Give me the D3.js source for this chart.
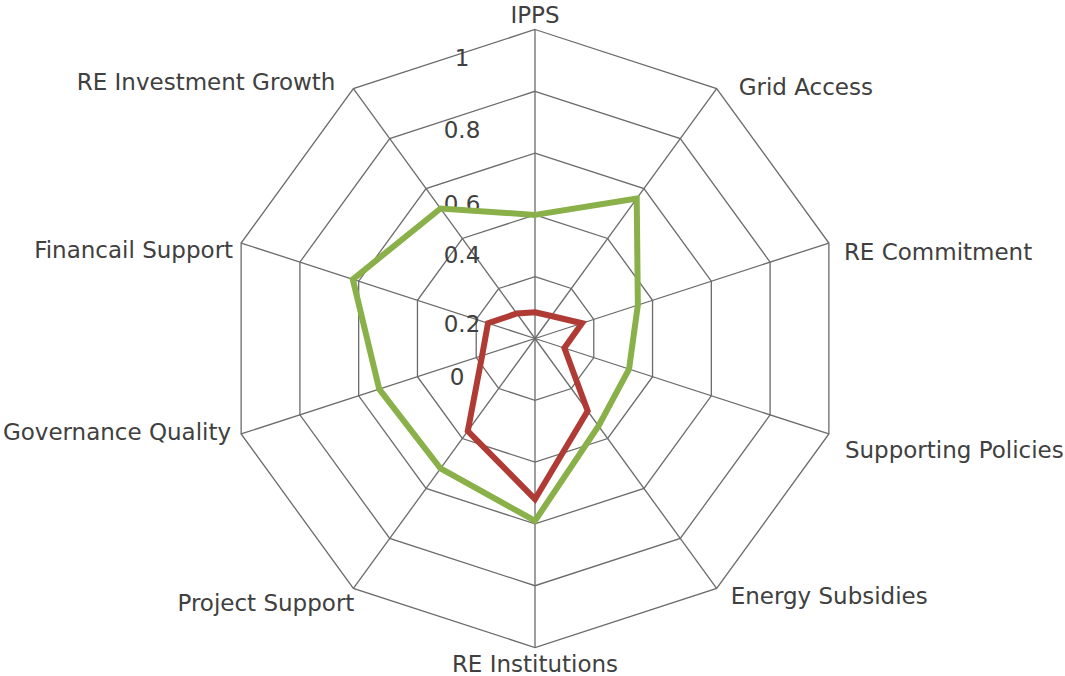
<!DOCTYPE html>
<html>
<head>
<meta charset="utf-8">
<script src="https://cdn.jsdelivr.net/npm/d3@7"></script>
<style>
  html, body { margin: 0; padding: 0; background: #fff; }
  svg text { font-family: "DejaVu Sans", Verdana, sans-serif; fill: #404040; }
</style>
</head>
<body>
<svg id="chart" width="1065" height="676"></svg>
<script>
// axes, clockwise from the top
const categories = ["IPPS", "Grid Access", "RE Commitment", "Supporting Policies", "Energy Subsidies",
  "RE Institutions", "Project Support", "Governance Quality", "Financail Support", "RE Investment Growth"];
const greenValues = [0.40, 0.56, 0.35, 0.32, 0.35, 0.59, 0.52, 0.53, 0.62, 0.52];
const redValues = [0.085, 0.09, 0.16, 0.10, 0.29, 0.52, 0.37, 0.18, 0.16, 0.10];
const tickValues = [0, 0.2, 0.4, 0.6, 0.8, 1];
const tickLabels = ["0", "0.2", "0.4", "0.6", "0.8", "1"];

const width = 1065, height = 676;
const cx = 535, cy = 338.5, R = 309;
// the value labels sit a bit off the rings in the original
const tickNudge = [46.5, 55, 48, 59, 47, 36.5];
// label offsets from the outer vertex, [dx, dy]
const labelNudge = [[0, -7], [22, 6], [15, 17], [16, 24], [14, 16],
  [0, 24], [1, 23], [-10, 6], [-8, 15], [-18, 1]];

const svg = d3.select('#chart');
const g = svg.append('g').attr('transform', `translate(${cx},${cy})`);

const r = d3.scaleLinear().domain([0, 1]).range([0, R]);
const angle = d3.scaleLinear().domain([0, categories.length]).range([0, 2 * Math.PI]);

const radial = d3.lineRadial()
  .angle((d, i) => angle(i))
  .radius(d => r(d))
  .curve(d3.curveLinearClosed);

// rings
g.selectAll('path.ring')
  .data(tickValues.filter(v => v > 0))
  .enter()
  .append('path')
  .attr('class', 'ring')
  .attr('d', v => radial(categories.map(() => v)))
  .attr('fill', 'none')
  .attr('stroke', '#6b6b6b')
  .attr('stroke-width', 1.3);

// spokes
g.selectAll('line.spoke')
  .data(categories)
  .enter()
  .append('line')
  .attr('class', 'spoke')
  .attr('x1', 0).attr('y1', 0)
  .attr('x2', (d, i) => r(1) * Math.sin(angle(i)))
  .attr('y2', (d, i) => -r(1) * Math.cos(angle(i)))
  .attr('stroke', '#6b6b6b')
  .attr('stroke-width', 1.3);

// value labels
g.selectAll('text.tick')
  .data(tickValues)
  .enter()
  .append('text')
  .attr('class', 'tick')
  .attr('x', v => v === 0 ? -78 : -73)
  .attr('y', (v, i) => -r(v) + tickNudge[i])
  .attr('text-anchor', 'middle')
  .style('font-size', '23px')
  .text((v, i) => tickLabels[i]);

// series
const series = [
  {values: greenValues, color: '#8ab04a'},
  {values: redValues, color: '#b03a34'}
];
g.selectAll('path.series')
  .data(series)
  .enter()
  .append('path')
  .attr('class', 'series')
  .attr('d', s => radial(s.values))
  .attr('fill', 'none')
  .attr('stroke', s => s.color)
  .attr('stroke-width', 6)
  .attr('stroke-linejoin', 'miter');

// category labels
g.selectAll('text.cat')
  .data(categories)
  .enter()
  .append('text')
  .attr('class', 'cat')
  .each(function(d, i) {
    let a = angle(i), s = Math.sin(a), c = Math.cos(a);
    let anchor = s > 0.2 ? 'start' : s < -0.2 ? 'end' : 'middle';
    d3.select(this)
      .attr('x', r(1) * s + labelNudge[i][0])
      .attr('y', -r(1) * c + labelNudge[i][1])
      .attr('text-anchor', anchor);
  })
  .style('font-size', '23px')
  .text(d => d);
</script>
</body>
</html>
